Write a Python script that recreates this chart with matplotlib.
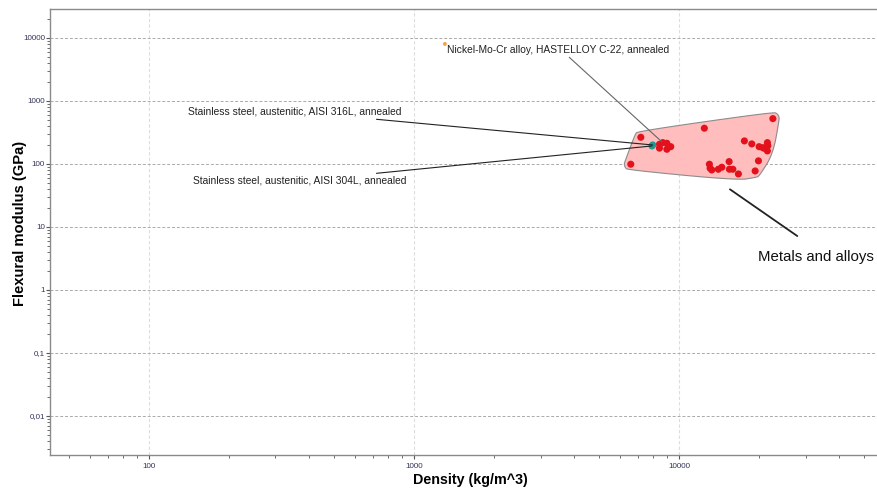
import numpy as np
import matplotlib
matplotlib.use('Agg')
import matplotlib.pyplot as plt
from matplotlib.ticker import FixedLocator, FixedFormatter, LogLocator, NullFormatter

plt.rcParams['font.family'] = ['Liberation Sans', 'DejaVu Sans']

# Metals and alloys (density kg/m^3, flexural modulus GPa)
metal_density = [7170, 6570, 8430, 8680, 8990, 8430, 8990, 9300, 12450, 22580,
                 17630, 18800, 20040, 20700, 21530, 21620, 21530, 20930, 19920, 19360,
                 15440, 13010, 13090, 13280, 14060, 14490, 15480, 15950, 16740]
metal_modulus = [265, 99, 205, 218, 213, 178, 171, 188, 369, 524,
                 232, 208, 188, 181, 218, 195, 161, 178, 112, 77.4,
                 109, 99, 85.5, 80.3, 82.4, 88.7, 82.4, 82.4, 69.4]

# highlighted records
steel_names = ['Stainless steel, austenitic, AISI 316L, annealed',
               'Stainless steel, austenitic, AISI 304L, annealed']
steel_density = [7950, 7900]
steel_modulus = [200, 193]

hastelloy_name = 'Nickel-Mo-Cr alloy, HASTELLOY C-22, annealed'
hastelloy_point = (8590, 226)
hastelloy_marker = (1307, 8030)

group_label = 'Metals and alloys'

y_ticks = [0.01, 0.1, 1, 10, 100, 1000, 10000]
y_ticklabels = ['0,01', '0,1', '1', '10', '100', '1000', '10000']
x_ticks = [100, 1000, 10000]
x_ticklabels = ['100', '1000', '10000']

fig = plt.figure(figsize=(8.77, 4.88), dpi=100)
ax = fig.add_axes([50 / 877, 33 / 488, 827 / 877, 446 / 488])
ax.set_xscale('log')
ax.set_yscale('log')
ax.set_xlim(42.3, 55800)
ax.set_ylim(0.0024, 28800)

tick_col = '#33335a'
ax.xaxis.set_major_locator(FixedLocator(x_ticks))
ax.xaxis.set_major_formatter(FixedFormatter(x_ticklabels))
ax.yaxis.set_major_locator(FixedLocator(y_ticks))
ax.yaxis.set_major_formatter(FixedFormatter(y_ticklabels))
ax.xaxis.set_minor_locator(LogLocator(base=10, subs=np.arange(2, 10)))
ax.yaxis.set_minor_locator(LogLocator(base=10, subs=np.arange(2, 10)))
ax.xaxis.set_minor_formatter(NullFormatter())
ax.yaxis.set_minor_formatter(NullFormatter())
ax.tick_params(which='major', length=3, width=0.8, color='#555555',
               labelsize=5.8, labelcolor=tick_col)
ax.tick_params(axis='y', which='major', pad=0.5)
ax.tick_params(axis='x', which='major', pad=3)
ax.tick_params(which='minor', length=2.2, width=0.6, color='#555555')

for s in ['left', 'bottom', 'top']:
    ax.spines[s].set_color('#8a8a8a')
    ax.spines[s].set_linewidth(1.0)
ax.spines['right'].set_visible(False)

ax.grid(True, which='major', axis='y', color='#aaaaaa', linestyle=(0, (3, 2)), linewidth=0.7)
ax.grid(True, which='major', axis='x', color='#dddddd', linestyle=(0, (3, 2)), linewidth=0.8)
ax.set_axisbelow(True)

ax.set_xlabel('Density (kg/m^3)', fontsize=10.3, fontweight='bold', va='center')
ax.xaxis.set_label_coords(0.508, -0.056)
ax.set_ylabel('Flexural modulus (GPa)', fontsize=10.6, fontweight='bold', va='center')
ax.yaxis.set_label_coords(-0.036, 0.52)


# envelope: buffered, smoothed convex hull of the group's points (pixel space)
def hull(pts):
    pts = sorted(set(map(tuple, pts)))
    def cross(o, a, b):
        return (a[0] - o[0]) * (b[1] - o[1]) - (a[1] - o[1]) * (b[0] - o[0])
    lower, upper = [], []
    for p in pts:
        while len(lower) >= 2 and cross(lower[-2], lower[-1], p) <= 0:
            lower.pop()
        lower.append(p)
    for p in reversed(pts):
        while len(upper) >= 2 and cross(upper[-2], upper[-1], p) <= 0:
            upper.pop()
        upper.append(p)
    return np.array(lower[:-1] + upper[:-1])


def chaikin(poly, n=3):
    for _ in range(n):
        nxt = np.roll(poly, -1, axis=0)
        q = 0.75 * poly + 0.25 * nxt
        r = 0.25 * poly + 0.75 * nxt
        poly = np.empty((2 * len(poly), 2))
        poly[0::2] = q
        poly[1::2] = r
    return poly

all_d = metal_density + steel_density
all_m = metal_modulus + steel_modulus
pix = ax.transData.transform(np.column_stack([all_d, all_m]))
ang = np.linspace(0, 2 * np.pi, 36, endpoint=False)
circ = np.column_stack([np.cos(ang), np.sin(ang)]) * 6.5
buf = (pix[:, None, :] + circ[None, :, :]).reshape(-1, 2)
shape = chaikin(hull(np.round(buf, 3))[::3], 3)
env = ax.transData.inverted().transform(shape)
ax.fill(env[:, 0], env[:, 1], facecolor='#ffbdbd', edgecolor='#8c8c8c', linewidth=0.8, zorder=2)

ax.scatter(metal_density, metal_modulus, s=26, color='#e3111b', edgecolors='none', zorder=3)
ax.scatter(steel_density, steel_modulus, s=26, color='#1f9a96', edgecolors='none', zorder=4)
ax.scatter([hastelloy_marker[0]], [hastelloy_marker[1]], s=8, color='#f4a24c', edgecolors='none', zorder=4)

# labels and leader lines
txt_kw = dict(fontsize=7.4, color='#222222', va='center', ha='left')
ax.text(0.1669, 0.7697, steel_names[0], transform=ax.transAxes, **txt_kw)
ax.text(0.1735, 0.6150, steel_names[1], transform=ax.transAxes, **txt_kw)
ax.text(0.4800, 0.9081, hastelloy_name, transform=ax.transAxes, **txt_kw)

ax.annotate('', xy=(steel_density[0], steel_modulus[0]), xytext=(0.3948, 0.7527),
            textcoords='axes fraction',
            arrowprops=dict(arrowstyle='-', color='#222222', lw=0.8, shrinkA=0, shrinkB=0), zorder=5)
ax.annotate('', xy=(steel_density[1], steel_modulus[1]), xytext=(0.3948, 0.6316),
            textcoords='axes fraction',
            arrowprops=dict(arrowstyle='-', color='#222222', lw=0.8, shrinkA=0, shrinkB=0), zorder=5)
ax.annotate('', xy=hastelloy_point, xytext=(0.6279, 0.8917), textcoords='axes fraction',
            arrowprops=dict(arrowstyle='-', color='#666666', lw=0.8, shrinkA=0, shrinkB=0), zorder=5)

ax.annotate('', xy=(0.9036, 0.4910), xytext=(0.8222, 0.5957), xycoords='axes fraction',
            textcoords='axes fraction',
            arrowprops=dict(arrowstyle='-', color='#222222', lw=1.3, shrinkA=0, shrinkB=0))
ax.text(0.8561, 0.4446, group_label, transform=ax.transAxes, fontsize=10.8,
        color='#111111', va='center', ha='left')

fig.savefig('out.png', dpi=100)
